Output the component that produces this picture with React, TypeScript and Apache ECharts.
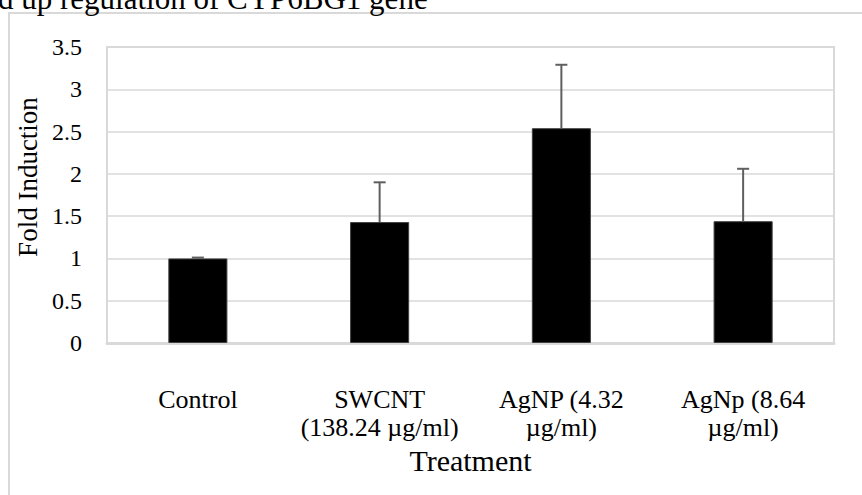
import React, { useEffect, useRef } from "react";
import * as echarts from "echarts";

const titleText = "d up regulation of CYP6BG1 gene";
const categories = ["Control", "SWCNT\n(138.24 µg/ml)", "AgNP (4.32\nµg/ml)", "AgNp (8.64\nµg/ml)"];
const foldValues = [1.0, 1.43, 2.54, 1.44];
const errorValues = [0.01, 0.47, 0.75, 0.62];
const yAxisName = "Fold Induction";
const xAxisName = "Treatment";

const FONT = "'Liberation Serif', 'Times New Roman', serif";

export default function App() {
  const ref = useRef<HTMLDivElement>(null);
  useEffect(() => {
    if (!ref.current) return;
    const chart = echarts.init(ref.current, undefined, { renderer: "svg" });
    const errData = foldValues.map((v, i) => [i, v, v + errorValues[i]]);
    chart.setOption({
      animation: false,
      backgroundColor: "#ffffff",
      textStyle: { fontFamily: FONT },
      graphic: [
        {
          type: "rect",
          shape: { x: 9, y: 13, width: 900, height: 600 },
          style: { fill: "none", stroke: "#d9d9d9", lineWidth: 2 },
          silent: true,
          z: -1,
        },
        {
          type: "text",
          x: -2,
          y: 14,
          style: {
            text: titleText,
            font: `31px ${FONT}`,
            fill: "#000",
            verticalAlign: "bottom",
          },
        },
      ],
      grid: { left: 107, top: 47, right: 28, bottom: 152, show: true, borderColor: "#d9d9d9", borderWidth: 2 },
      xAxis: {
        type: "category",
        data: categories,
        axisLine: { show: true, lineStyle: { color: "#d9d9d9", width: 3 } },
        axisTick: { show: false },
        axisLabel: {
          margin: 42,
          fontSize: 26,
          lineHeight: 28,
          color: "#000",
          fontFamily: FONT,
          interval: 0,
        },
        name: xAxisName,
        nameLocation: "middle",
        nameGap: 97,
        nameTextStyle: { fontSize: 30, color: "#000", fontFamily: FONT },
      },
      yAxis: {
        type: "value",
        min: 0,
        max: 3.5,
        interval: 0.5,
        axisLine: { show: false },
        axisTick: { show: false },
        splitLine: { lineStyle: { color: "#d9d9d9", width: 1.5 } },
        axisLabel: { margin: 25, fontSize: 24, color: "#000", fontFamily: FONT },
        name: yAxisName,
        nameLocation: "middle",
        nameGap: 60,
        nameTextStyle: { fontSize: 27, color: "#000", fontFamily: FONT, padding: [0, 0, 0, 36] },
      },
      series: [
        {
          type: "bar",
          data: foldValues,
          barWidth: "32.5%",
          itemStyle: { color: "#000", borderColor: "#404040", borderWidth: 1 },
          z: 2,
        },
        {
          type: "custom",
          data: errData,
          z: 3,
          renderItem: (params: any, api: any) => {
            const x = api.value(0);
            const lo = api.coord([x, api.value(1)]);
            const hi = api.coord([x, api.value(2)]);
            const cap = 6;
            const style = { stroke: "#5f5f5f", lineWidth: 2 };
            return {
              type: "group",
              children: [
                { type: "line", shape: { x1: lo[0], y1: lo[1], x2: hi[0], y2: hi[1] }, style },
                { type: "line", shape: { x1: hi[0] - cap, y1: hi[1], x2: hi[0] + cap, y2: hi[1] }, style },
              ],
            };
          },
        },
      ],
    });
    return () => chart.dispose();
  }, []);
  return (
    <div
      ref={ref}
      style={{ position: "absolute", left: 0, top: 0, width: 862, height: 495 }}
    />
  );
}
